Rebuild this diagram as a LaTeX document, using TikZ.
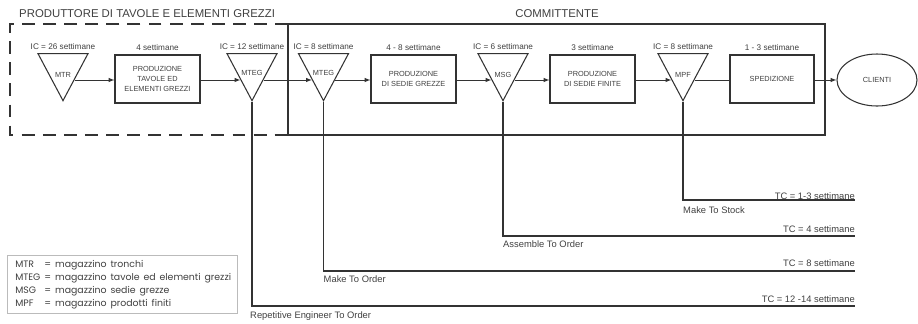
\documentclass[tikz,border=0pt]{standalone}
\usepackage{fontspec}
\setmainfont{Liberation Sans}
\newfontfamily\legendfont{Poppins}
\usetikzlibrary{arrows,shapes,positioning,calc}
\definecolor{ink}{HTML}{333333}
\definecolor{txt}{HTML}{404040}
\definecolor{frame}{HTML}{BBBBBB}

\begin{document}
\begin{tikzpicture}[x=0.03cm, y=-0.03cm, >=latex,
	tri/.style={draw=ink, line width=0.9pt, isosceles triangle, shape border rotate=270, isosceles triangle stretches, minimum width=1.5cm, minimum height=1.41cm, inner sep=0pt, text height=0.6cm, anchor=apex, font=\fontsize{6.3}{7}\selectfont, text=txt},
	proc/.style={rectangle, draw=ink, line width=0.9pt, minimum width=2.55cm, minimum height=1.44cm, align=center, font=\fontsize{6.3}{8.2}\selectfont, text=txt},
	lbl/.style={font=\fontsize{7}{8}\selectfont, text=txt, inner sep=1pt},
	mode/.style={font=\fontsize{8}{9}\selectfont, text=txt, inner sep=0pt},
	grp/.style={font=\fontsize{9.7}{11}\selectfont, text=txt, inner sep=0pt},
	flow/.style={->, draw=ink, line width=0.7pt},
	drop/.style={draw=ink, line width=1pt}]
	\useasboundingbox (0,0) rectangle (918,323);
	
	% confini
	\draw[ink, line width=2.5pt, dash pattern=on 11pt off 7pt] (288,24) -- (10,24) -- (10,135) -- (288,135);
	\draw[ink, line width=2.5pt] (288,24) rectangle (825,135);
	\node[grp, anchor=west] (prod) at (19,14) {PRODUTTORE DI TAVOLE E ELEMENTI GREZZI};
	\node[grp] (comm) at (557,14) {COMMITTENTE};
	
	% MTR
	\node[tri] (mtr) at (63,102) {MTR};
	\node[lbl, above=2pt of mtr] {IC = 26 settimane};
	
	% produzione tavole
	\node[proc] (ptav) at (157.5,79) {PRODUZIONE\\TAVOLE ED\\ELEMENTI GREZZI};
	\node[lbl, above=2pt of ptav] {4 settimane};
	
	% MTEG (produttore)
	\node[tri] (mtega) at (252,102) {MTEG};
	\node[lbl, above=2pt of mtega] {IC = 12 settimane};
	
	% MTEG (committente)
	\node[tri] (mtegb) at (323.5,102) {MTEG};
	\node[lbl, above=2pt of mtegb] {IC = 8 settimane};
	
	% produzione sedie grezze
	\node[proc] (psg) at (413.5,79) {PRODUZIONE\\DI SEDIE GREZZE};
	\node[lbl, above=2pt of psg] {4 - 8 settimane};
	
	% MSG
	\node[tri] (msg) at (503,102) {MSG};
	\node[lbl, above=2pt of msg] {IC = 6 settimane};
	
	% produzione sedie finite
	\node[proc] (psf) at (592.5,79) {PRODUZIONE\\DI SEDIE FINITE};
	\node[lbl, above=2pt of psf] {3 settimane};
	
	% MPF
	\node[tri] (mpf) at (683,102) {MPF};
	\node[lbl, above=2pt of mpf] {IC = 8 settimane};
	
	% spedizione
	\node[proc, minimum width=2.52cm] (sped) at (772,79) {SPEDIZIONE};
	\node[lbl, above=2pt of sped] {1 - 3 settimane};
	
	% clienti
	\node[ellipse, draw=ink, line width=0.9pt, minimum width=2.4cm, minimum height=1.56cm, font=\fontsize{6.3}{7}\selectfont, text=txt] (clienti) at (877,80) {CLIENTI};
	
	% flusso
	\foreach \t in {mtr,mtega,mtegb,msg,mpf} {
		\coordinate (\t-in) at ($(\t.right corner)!0.55!(\t.apex)$);
		\coordinate (\t-out) at ($(\t.left corner)!0.55!(\t.apex)$);
	}
	\draw[flow] (mtr-out) -- (mtr-out -| ptav.west);
	\draw[flow] (ptav.east |- mtega-in) -- (mtega-in);
	\draw[flow] (mtega-out) -- (mtegb-in);
	\draw[flow] (mtegb-out) -- (mtegb-out -| psg.west);
	\draw[flow] (psg.east |- msg-in) -- (msg-in);
	\draw[flow] (msg-out) -- (msg-out -| psf.west);
	\draw[flow] (psf.east |- mpf-in) -- (mpf-in);
	\draw[flow, -] (mpf-out) -- (mpf-out -| sped.west);
	\draw[flow] (sped.east |- mpf-out) -- (clienti.west |- mpf-out);
	
	% tempi di consegna
	\coordinate (mtsend) at (855,200);
	\coordinate (atoend) at (855,236);
	\coordinate (mtoend) at (855,271);
	\coordinate (etoend) at (855,306);
	\draw[drop] (mpf.apex) |- (mtsend);
	\draw[drop] (msg.apex) |- (atoend);
	\draw[drop] (mtegb.apex) |- (mtoend);
	\draw[drop] (mtega.apex) |- (etoend);
	\node[mode, anchor=base east] (tcmts) at (855,199) {TC = 1-3 settimane};
	\node[mode, anchor=base east] (tcato) at (855,232) {TC = 4 settimane};
	\node[mode, anchor=base east] (tcmto) at (855,266) {TC = 8 settimane};
	\node[mode, anchor=base east] (tceto) at (855,302) {TC = 12 -14 settimane};
	\node[mode, anchor=base west] (mts) at (683,213) {Make To Stock};
	\node[mode, anchor=base west] (ato) at (503,247) {Assemble To Order};
	\node[mode, anchor=base west] (mto) at (323.5,282) {Make To Order};
	\node[mode, anchor=base west] (eto) at (250,318.5) {Repetitive Engineer To Order};
	
	% legenda
	\node[draw=frame, line width=0.5pt, anchor=north west, inner xsep=0.24cm, inner ysep=0pt, text width=6.42cm, minimum height=1.74cm, text=txt] (legend) at (7,255) {\legendfont\fontsize{8}{11}\selectfont
		\begin{tabular}{@{}l@{ }l@{}}
			MTR & = magazzino tronchi\\
			MTEG & = magazzino tavole ed elementi grezzi\\
			MSG & = magazzino sedie grezze\\
			MPF & = magazzino prodotti finiti
		\end{tabular}};
\end{tikzpicture}
\end{document}
